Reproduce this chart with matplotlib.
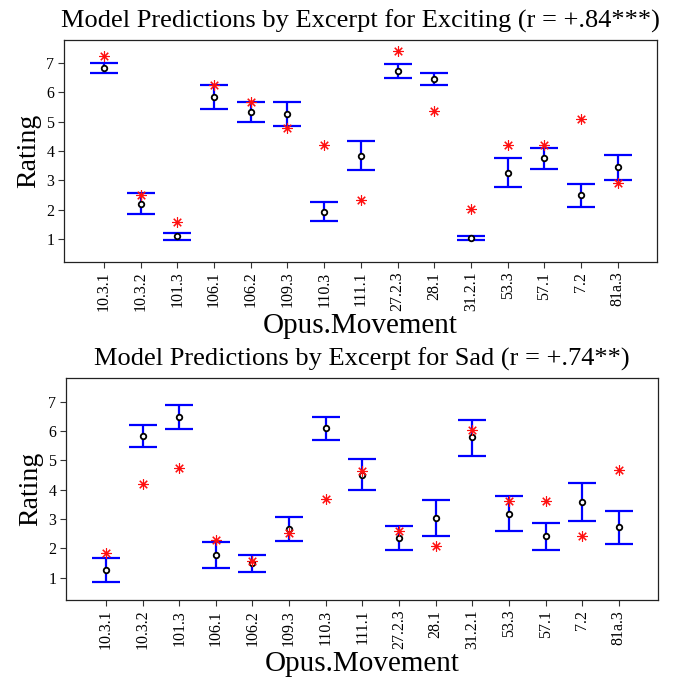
import matplotlib
matplotlib.use("Agg")
import matplotlib.pyplot as plt
import numpy as np

categories = ["10.3.1", "10.3.2", "101.3", "106.1", "106.2", "109.3", "110.3", "111.1",
              "27.2.3", "28.1", "31.2.1", "53.3", "57.1", "7.2", "81a.3"]

# Exciting
exc_mean = [6.85, 2.20, 1.09, 5.85, 5.34, 5.27, 1.94, 3.85, 6.73, 6.46, 1.03, 3.26, 3.75, 2.49, 3.45]
exc_upper = [7.02, 2.56, 1.22, 6.25, 5.66, 5.68, 2.25, 4.33, 6.97, 6.68, 1.11, 3.76, 4.12, 2.87, 3.88]
exc_lower = [6.68, 1.84, 0.98, 5.45, 5.01, 4.86, 1.63, 3.36, 6.49, 6.25, 0.96, 2.77, 3.38, 2.10, 3.02]
exc_pred = [7.25, 2.49, 1.60, 6.27, 5.66, 4.78, 4.21, 2.33, 7.41, 5.37, 2.02, 4.21, 4.22, 5.10, 2.91]

# Sad
sad_mean = [1.25, 5.84, 6.49, 1.77, 1.49, 2.65, 6.10, 4.52, 2.36, 3.03, 5.79, 3.19, 2.42, 3.58, 2.72]
sad_upper = [1.66, 6.22, 6.90, 2.22, 1.78, 3.06, 6.49, 5.05, 2.77, 3.66, 6.39, 3.79, 2.88, 4.23, 3.28]
sad_lower = [0.86, 5.47, 6.08, 1.33, 1.19, 2.24, 5.70, 4.00, 1.93, 2.42, 5.16, 2.60, 1.95, 2.93, 2.14]
sad_pred = [1.85, 4.18, 4.74, 2.28, 1.58, 2.52, 3.67, 4.63, 2.58, 2.08, 6.05, 3.62, 3.62, 2.42, 4.67]

titles = ["Model Predictions by Excerpt for Exciting (r = +.84***)",
          "Model Predictions by Excerpt for Sad (r = +.74**)"]
yticks = [1, 2, 3, 4, 5, 6, 7]

plt.rcParams['font.family'] = ['Liberation Serif', 'DejaVu Serif']

fig = plt.figure(figsize=(6.91, 6.81), dpi=100)
ax1 = fig.add_axes([0.0926, 0.6153, 0.8582, 0.3260])
ax2 = fig.add_axes([0.0955, 0.1189, 0.8568, 0.3260])

x = np.arange(1, len(categories) + 1)

def draw(ax, mean, upper, lower, pred, title, ylim):
    mean = np.array(mean); upper = np.array(upper); lower = np.array(lower)
    ax.errorbar(x, mean, yerr=[mean - lower, upper - mean], fmt='none',
                ecolor='#0000ff', elinewidth=1.6, capsize=10, capthick=1.6, zorder=2)
    ax.plot(x, mean, linestyle='none', marker='o', markersize=4, markerfacecolor='white',
            markeredgecolor='black', markeredgewidth=1.3, zorder=3)
    ax.plot(x, pred, linestyle='none', marker=(8, 2, 0), markersize=7.5, color='#ff1010',
            markeredgewidth=0.8, zorder=4)
    ax.set_xlim(-0.09, 16.07)
    ax.set_ylim(*ylim)
    ax.set_xticks(x)
    ax.set_xticklabels(categories, rotation=90, fontsize=11.5)
    ax.set_yticks(yticks)
    ax.set_yticklabels([str(v) for v in yticks], fontsize=11.5)
    ax.tick_params(direction='out', length=4, width=0.8, color='#333333', pad=3)
    for s in ax.spines.values():
        s.set_linewidth(0.9)
        s.set_color('#222222')
    ax.set_ylabel("Rating", fontsize=20, labelpad=4)
    ax.set_xlabel("Opus.Movement", fontsize=21, labelpad=1)
    ax.set_title(title, fontsize=19, pad=9)

draw(ax1, exc_mean, exc_upper, exc_lower, exc_pred, titles[0], (0.22, 7.79))
draw(ax2, sad_mean, sad_upper, sad_lower, sad_pred, titles[1], (0.24, 7.81))

fig.savefig("out.png", dpi=100)
